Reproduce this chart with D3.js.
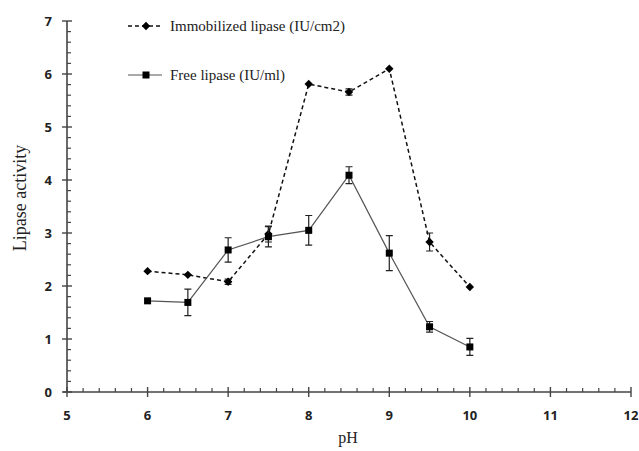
<!DOCTYPE html>
<html lang="en">
<head>
<meta charset="UTF-8">
<title>Lipase activity vs pH</title>
<script src="https://cdnjs.cloudflare.com/ajax/libs/d3/7.8.5/d3.min.js"></script>
<style>
    body { margin: 0; background: #fff; }
    .tick-label { font-family: 'Open Sans', 'DejaVu Sans', sans-serif; font-weight: 700; font-size: 13px; fill: #222; }
    .serif { font-family: 'Liberation Serif', 'DejaVu Serif', serif; fill: #222; }
</style>
</head>
<body>
<div id="chart"></div>
<script>
    // pH values
    const phValues = [6, 6.5, 7, 7.5, 8, 8.5, 9, 9.5, 10];

    // Immobilized lipase (IU/cm2) and its error
    const immobilized    = [2.28, 2.21, 2.08, 2.98, 5.81, 5.66, 6.10, 2.83, 1.98];
    const immobilizedErr = [0.02, 0.02, 0.05, 0.15, 0.02, 0.06, 0.02, 0.17, 0.02];

    // Free lipase (IU/ml) and its error
    const freeLipase = [1.72, 1.69, 2.68, 2.93, 3.05, 4.09, 2.62, 1.23, 0.85];
    const freeErr    = [0.02, 0.25, 0.23, 0.19, 0.28, 0.16, 0.33, 0.10, 0.16];

    const xTicks = [5, 6, 7, 8, 9, 10, 11, 12];
    const yTicks = [0, 1, 2, 3, 4, 5, 6, 7];

    const width = 639, height = 451;
    const margin = { top: 21, right: 8, bottom: 59, left: 67 };

    const svg = d3.select('#chart').append('svg')
        .attr('width', width)
        .attr('height', height);

    const x = d3.scaleLinear().domain([5, 12]).range([margin.left, width - margin.right]);
    const y = d3.scaleLinear().domain([0, 7]).range([height - margin.bottom, margin.top]);

    const axisColor = '#444';

    // x axis: major ticks cross the line, minor ticks point up
    const xAxis = svg.append('g').attr('transform', `translate(0,${y(0)})`);
    xAxis.call(d3.axisBottom(x).tickValues(xTicks).tickSize(0).tickFormat(''));
    xAxis.select('.domain').attr('stroke', axisColor).attr('stroke-width', 1.6).attr('d', `M${x(5) - 4},0H${x(12)}`);
    xAxis.selectAll('.major').data(xTicks).join('line')
        .attr('x1', d => x(d)).attr('x2', d => x(d)).attr('y1', -5).attr('y2', 5)
        .attr('stroke', axisColor).attr('stroke-width', 1.4);
    xAxis.selectAll('.minor').data(d3.range(5, 12.01, 0.2).filter(d => Math.abs(d - Math.round(d)) > 0.01)).join('line')
        .attr('x1', d => x(d)).attr('x2', d => x(d)).attr('y1', -4).attr('y2', 0)
        .attr('stroke', axisColor).attr('stroke-width', 1.2);
    xAxis.selectAll('.xl').data(xTicks).join('text')
        .attr('class', 'tick-label')
        .attr('x', d => x(d)).attr('y', 28)
        .attr('text-anchor', 'middle')
        .text(d => d);

    // y axis: major ticks cross the line, minor ticks point right
    const yAxis = svg.append('g').attr('transform', `translate(${x(5)},0)`);
    yAxis.append('line').attr('x1', 0).attr('x2', 0).attr('y1', y(7)).attr('y2', y(0))
        .attr('stroke', axisColor).attr('stroke-width', 1.6);
    yAxis.selectAll('.major').data(yTicks).join('line')
        .attr('x1', -5).attr('x2', 5).attr('y1', d => y(d)).attr('y2', d => y(d))
        .attr('stroke', axisColor).attr('stroke-width', 1.4);
    yAxis.selectAll('.minor').data(d3.range(0, 7.01, 0.2).filter(d => Math.abs(d - Math.round(d)) > 0.01)).join('line')
        .attr('x1', 0).attr('x2', 4).attr('y1', d => y(d)).attr('y2', d => y(d))
        .attr('stroke', axisColor).attr('stroke-width', 1.2);
    yAxis.selectAll('.yl').data(yTicks).join('text')
        .attr('class', 'tick-label')
        .attr('x', -15).attr('y', d => y(d)).attr('dy', '0.35em')
        .attr('text-anchor', 'end')
        .text(d => d);

    // axis titles
    svg.append('text').attr('class', 'serif')
        .attr('transform', 'translate(26,198) rotate(-90)')
        .attr('text-anchor', 'middle')
        .style('font-size', '18px')
        .text('Lipase activity');
    svg.append('text').attr('class', 'serif')
        .attr('x', 348).attr('y', 443)
        .attr('text-anchor', 'middle')
        .style('font-size', '16px')
        .text('pH');

    const series = [
        { name: 'Immobilized lipase (IU/cm2)', values: immobilized, err: immobilizedErr, dash: '4,3', color: '#111', width: 1.5, marker: 'diamond' },
        { name: 'Free lipase (IU/ml)', values: freeLipase, err: freeErr, dash: null, color: '#555', width: 1.2, marker: 'square' }
    ];

    const line = d3.line().x(d => x(d[0])).y(d => y(d[1]));

    const drawMarker = (g, type, cx, cy) => {
        if (type === 'square') {
            g.append('rect').attr('x', cx - 3.5).attr('y', cy - 3.5).attr('width', 7).attr('height', 7).attr('fill', '#000');
        } else {
            g.append('path').attr('d', d3.symbol().type(d3.symbolDiamond2).size(45)())
                .attr('transform', `translate(${cx},${cy})`).attr('fill', '#000');
        }
    };

    series.forEach(s => {
        const pts = phValues.map((p, i) => [p, s.values[i]]);
        const g = svg.append('g');
        g.append('path').datum(pts)
            .attr('d', line)
            .attr('fill', 'none')
            .attr('stroke', s.color)
            .attr('stroke-width', s.width)
            .attr('stroke-dasharray', s.dash);
        // error bars
        pts.forEach((p, i) => {
            const e = s.err[i];
            if (e < 0.04) return;
            const px = x(p[0]), top = y(p[1] + e), bot = y(p[1] - e);
            g.append('path')
                .attr('d', `M${px},${top}V${bot}M${px - 3.5},${top}H${px + 3.5}M${px - 3.5},${bot}H${px + 3.5}`)
                .attr('stroke', '#222').attr('stroke-width', 1.2).attr('fill', 'none');
        });
        pts.forEach(p => drawMarker(g, s.marker, x(p[0]), y(p[1])));
    });

    // legend
    const legend = svg.append('g');
    series.forEach((s, i) => {
        const ly = 26 + i * 49;
        legend.append('line')
            .attr('x1', 128).attr('x2', 162).attr('y1', ly).attr('y2', ly)
            .attr('stroke', s.color).attr('stroke-width', s.width)
            .attr('stroke-dasharray', s.dash);
        drawMarker(legend, s.marker, 146, ly);
        legend.append('text').attr('class', 'serif')
            .attr('x', 170).attr('y', ly).attr('dy', '0.35em')
            .style('font-size', '15px')
            .text(s.name);
    });
</script>
</body>
</html>
